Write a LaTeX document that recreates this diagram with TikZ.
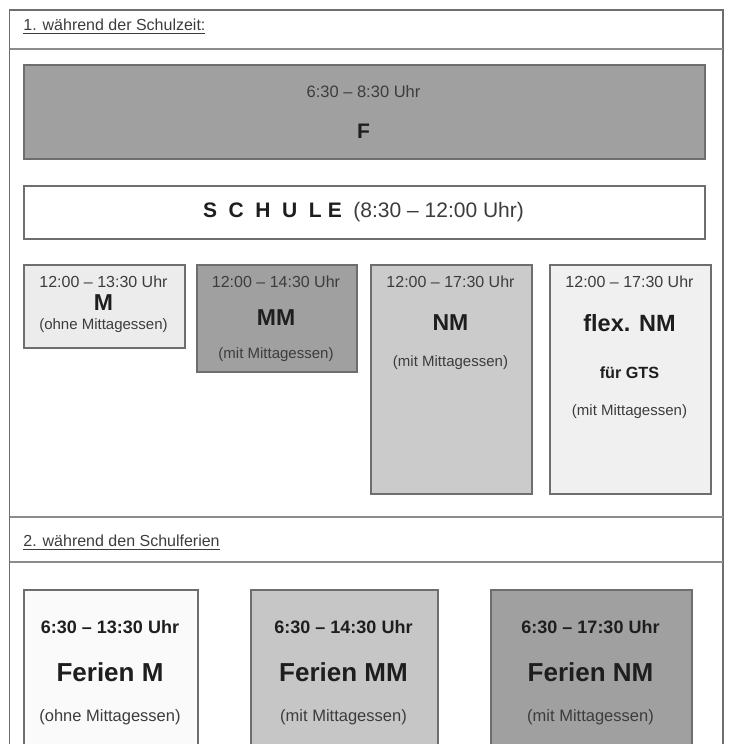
\documentclass[tikz,border=0pt]{standalone}
\usepackage{fontspec}
\setmainfont{Liberation Sans}
\usetikzlibrary{positioning}

\definecolor{rand}{HTML}{6E6E6E}
\definecolor{linie}{HTML}{8C8C8C}
\definecolor{grauF}{HTML}{A0A0A0}
\definecolor{grauNM}{HTML}{CBCBCB}
\definecolor{grauM}{HTML}{ECECEC}
\definecolor{grauFlex}{HTML}{F0F0F0}
\definecolor{grauFM}{HTML}{FAFAFA}
\definecolor{grauFMM}{HTML}{C6C6C6}
\definecolor{schrift}{HTML}{3C3C3C}
\definecolor{fett}{HTML}{1E1E1E}

\tikzset{
  kasten/.style={draw=rand, line width=0.8pt, anchor=north west, inner sep=0pt},
  zeile/.style={inner sep=0pt, text=schrift, font=\fontsize{#1}{#1}\selectfont},
  titel/.style={inner sep=0pt, text=fett, font=\fontsize{#1}{#1}\selectfont\bfseries},
  kopf/.style={inner sep=0pt, anchor=west, text=schrift, font=\fontsize{8}{8}\selectfont}
}

\begin{document}
\begin{tikzpicture}[x=0.5pt, y=-0.5pt]
        \useasboundingbox (0,0) rectangle (744,744);
        \clip (0,0) rectangle (744,744);

        % Rahmen und Trennlinien
        \draw[rand, line width=0.8pt] (9.5,800) -- (9.5,10) -- (723,10) -- (723,800);
        \draw[linie, line width=1.1pt] (9.5,49) -- (723,49);
        \draw[linie, line width=1.1pt] (9.5,517) -- (723,517);
        \draw[linie, line width=1.1pt] (9.5,562) -- (723,562);

        % 1. während der Schulzeit
        \node[kopf] (kopf1) at (23,27) {\underline{1. während der Schulzeit:}};

        \node[kasten, fill=grauF, minimum width=340.5pt, minimum height=47pt] (F) at (23,64) {};
        \node[zeile=8.25] (fZeit) at (363.5,92) {6:30 – 8:30 Uhr};
        \node[titel=10.5] (fName) at (363.5,131) {F};

        \node[kasten, fill=white, minimum width=340.5pt, minimum height=26.5pt] (schule) at (23,185) {};
        \node[zeile=10.5] (schuleText) at (363.5,212)
          {\textcolor{fett}{\bfseries S\hspace{.55em}C\hspace{.55em}H\hspace{.55em}U\hspace{.55em}L\hspace{.3em}E}\hspace{.55em}(8:30 – 12:00 Uhr)};

        \node[kasten, fill=grauM, minimum width=80.5pt, minimum height=41.5pt] (M) at (23,264) {};
        \node[zeile=8] (mZeit) at (103.5,282) {12:00 – 13:30 Uhr};
        \node[titel=11.5] (mName) at (103.5,303) {M};
        \node[zeile=7.5] (mEssen) at (103.5,326) {(ohne Mittagessen)};

        \node[kasten, fill=grauF, minimum width=80pt, minimum height=53.5pt] (MM) at (196,264) {};
        \node[zeile=8] (mmZeit) at (276,282) {12:00 – 14:30 Uhr};
        \node[titel=11.5] (mmName) at (276,318) {MM};
        \node[zeile=7.5] (mmEssen) at (276,355) {(mit Mittagessen)};

        \node[kasten, fill=grauNM, minimum width=80.5pt, minimum height=114.5pt] (NM) at (370,264) {};
        \node[zeile=8] (nmZeit) at (450.5,282) {12:00 – 17:30 Uhr};
        \node[titel=11.5] (nmName) at (450.5,323) {NM};
        \node[zeile=7.5] (nmEssen) at (450.5,363) {(mit Mittagessen)};

        \node[kasten, fill=grauFlex, minimum width=80.5pt, minimum height=114.5pt] (flexNM) at (549,264) {};
        \node[zeile=8] (flexZeit) at (629.5,282) {12:00 – 17:30 Uhr};
        \node[titel=11.75] (flexName) at (629.5,323) {flex. NM};
        \node[titel=8.1] (flexGTS) at (629.5,373) {für GTS};
        \node[zeile=7.5] (flexEssen) at (629.5,412) {(mit Mittagessen)};

        % 2. während den Schulferien
        \node[kopf] (kopf2) at (23,543) {\underline{2. während den Schulferien}};

        \node[kasten, fill=grauFM, minimum width=87pt, minimum height=100pt] (ferienM) at (23,589) {};
        \node[titel=9] (fmZeit) at (110,627) {6:30 – 13:30 Uhr};
        \node[titel=13] (fmName) at (110,672) {Ferien M};
        \node[zeile=8.25] (fmEssen) at (110,717) {(ohne Mittagessen)};

        \node[kasten, fill=grauFMM, minimum width=93.5pt, minimum height=100pt] (ferienMM) at (250,589) {};
        \node[titel=9] (fmmZeit) at (343.5,627) {6:30 – 14:30 Uhr};
        \node[titel=13] (fmmName) at (343.5,672) {Ferien MM};
        \node[zeile=8.25] (fmmEssen) at (343.5,717) {(mit Mittagessen)};

        \node[kasten, fill=grauF, minimum width=100.5pt, minimum height=100pt] (ferienNM) at (490,589) {};
        \node[titel=9] (fnmZeit) at (590.5,627) {6:30 – 17:30 Uhr};
        \node[titel=13] (fnmName) at (590.5,672) {Ferien NM};
        \node[zeile=8.25] (fnmEssen) at (590.5,717) {(mit Mittagessen)};
      \end{tikzpicture}
\end{document}
